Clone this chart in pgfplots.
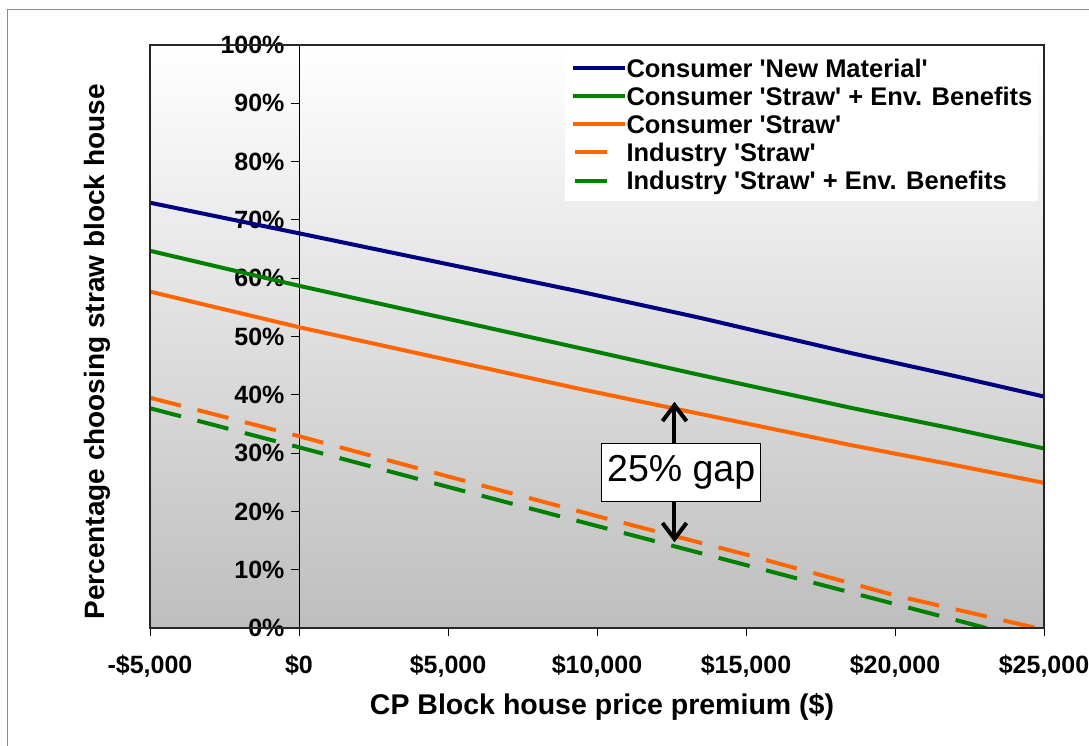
\documentclass[border=0pt]{standalone}
\usepackage{fontspec}
\setmainfont{Liberation Sans}
\usepackage{pgfplots}
\pgfplotsset{compat=1.18}
\usetikzlibrary{arrows.meta}
\definecolor{cnavy}{RGB}{0,0,128}
\definecolor{cgreen}{RGB}{0,128,0}
\definecolor{corange}{RGB}{255,102,0}
\definecolor{bggray}{RGB}{190,190,190}
\definecolor{framegray}{RGB}{140,140,140}
\newcommand{\q}{\textquotesingle}
\pgfplotsset{dashlegend/.style={legend image code/.code={\draw[##1] (2pt,0pt) -- (35pt,0pt);}}}
\begin{document}
\begin{tikzpicture}
\draw[framegray, line width=1pt] (7pt,-9pt) rectangle (1130pt,-780pt);
\begin{axis}[
  scale only axis,
  width=894pt, height=583pt,
  at={(150pt,-628pt)}, anchor=south west,
  xmin=-5000, xmax=25000, ymin=0, ymax=100,
  axis x line*=bottom, axis y line*=center,
  hide obscured x ticks=false, hide obscured y ticks=false,
  scaled x ticks=false, scaled y ticks=false,
  x axis line style={line width=2pt, black, -},
  y axis line style={line width=1pt, black, -},
  tick align=outside, major tick length=8pt,
  tick style={black, line width=1pt},
  xtick={-5000,0,5000,10000,15000,20000,25000},
  xticklabels={{-\$5,000},{\$0},{\$5,000},{\$10,000},{\$15,000},{\$20,000},{\$25,000}},
  ytick={0,10,...,100},
  yticklabels={0\%,10\%,20\%,30\%,40\%,50\%,60\%,70\%,80\%,90\%,100\%},
  ticklabel style={font=\fontsize{25}{30}\selectfont\bfseries},
  yticklabel style={anchor=east, xshift=-3pt},
  xticklabel style={anchor=north, yshift=-15pt},
  axis background/.style={shade, top color=white, bottom color=bggray},
  clip mode=individual,
  xlabel={CP Block house price premium (\$)},
  ylabel={Percentage choosing straw block house},
  xlabel style={at={(rel axis cs:0.5056,-0.1355)}, anchor=center, font=\fontsize{28.5}{34}\selectfont\bfseries},
  ylabel style={at={(rel axis cs:-0.0593,0.4734)}, anchor=center, rotate=0, font=\fontsize{28}{34}\selectfont\bfseries},
  legend image code/.code={\draw[#1] (0pt,0pt) -- (51.6pt,0pt);},
  legend style={at={(rel axis cs:0.4642,0.9949)}, anchor=north west, fill=white, draw=none,
    inner xsep=5.7pt, inner ysep=7pt, font=\fontsize{25.5}{28}\selectfont\bfseries,
    nodes={inner sep=0pt, text height=22pt, text depth=4pt},
    column sep=0pt, row sep=2.1pt},
  legend cell align=left,
]
\addplot[cnavy, line width=4pt] coordinates {(-5000,72.95)(0,67.7)(9430,57.7)(13460,53.2)(18490,47.2)(21850,43.4)(25000,39.7)};
\addlegendentry{Consumer \q New Material\q}
\addplot[cgreen, line width=4pt] coordinates {(-5000,64.7)(0,58.7)(9430,48.0)(13460,43.4)(18490,37.8)(21850,34.3)(25000,30.8)};
\addlegendentry{Consumer \q Straw\q{} + Env. Benefits}
\addplot[corange, line width=4pt] coordinates {(-5000,57.7)(0,51.6)(9430,41.0)(18490,31.4)(21850,28.1)(25000,24.9)};
\addlegendentry{Consumer \q Straw\q}
\addplot[corange, line width=4pt, dash pattern=on 32pt off 17pt, dashlegend] coordinates {(-5000,39.5)(0,32.9)(5000,26.0)(10000,19.2)(15000,12.6)(20000,5.6)(25000,-0.3)};
\addlegendentry{Industry \q Straw\q}
\addplot[cgreen, line width=4pt, dash pattern=on 32pt off 17pt, dashlegend] coordinates {(-5000,37.7)(0,31.0)(5000,24.2)(10000,17.5)(15000,10.8)(20000,4.1)(25000,-2.6)};
\addlegendentry{Industry \q Straw\q{} + Env. Benefits}
\draw[black!85, line width=1.2pt] (rel axis cs:0,0) rectangle (rel axis cs:1,1);
\draw[black, line width=4pt, {Straight Barb[length=16pt,width=24pt]}-{Straight Barb[length=16pt,width=24pt]}] (axis cs:12600,38.8) -- (axis cs:12600,14.7);
\node[draw=black, line width=1.3pt, fill=white, minimum width=159pt, minimum height=58pt, inner sep=0pt, font=\fontsize{37.5}{40}\selectfont] at (axis cs:12826,26.67) {25\% gap};
\end{axis}
\pgfresetboundingbox
\path (0pt,0pt) rectangle (1089pt,-745pt);
\end{tikzpicture}
\end{document}
